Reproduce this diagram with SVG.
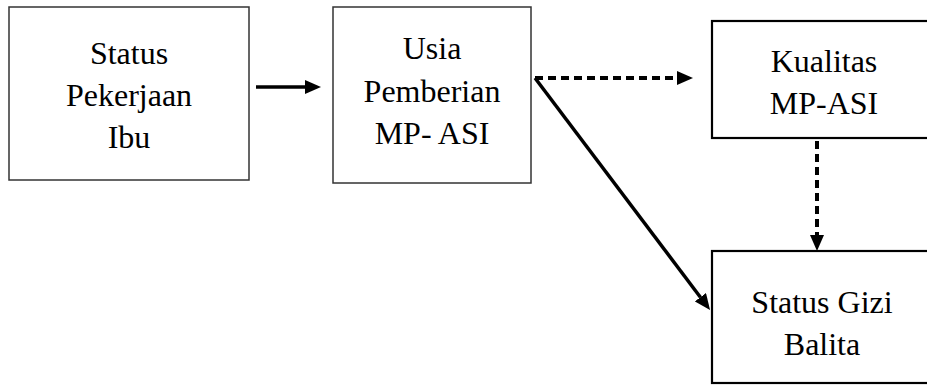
<svg xmlns="http://www.w3.org/2000/svg" width="927" height="385" viewBox="0 0 927 385">
<defs>
<style>
.box{fill:#fff;stroke:#333;stroke-width:1.5}
.box2{fill:#fff;stroke:#000;stroke-width:2.2}
.t{font-family:"Liberation Serif","Times New Roman",serif;font-size:32px;fill:#000;text-anchor:middle}
.ln{stroke:#000;stroke-width:3.5;fill:none}
.dash{stroke-width:4;stroke-dasharray:8 5}
</style>
<marker id="ah" viewBox="0 0 16 14" refX="0" refY="7" markerWidth="16" markerHeight="14" markerUnits="userSpaceOnUse" orient="auto">
<path d="M0,0 L16,7 L0,14 Z" fill="#000"/>
</marker>
</defs>
<rect width="927" height="385" fill="#fff"/>
<g id="node-status-pekerjaan">
<rect class="box" x="9" y="7" width="240" height="173"/>
<text class="t" x="129" y="64">Status</text>
<text class="t" x="129" y="106">Pekerjaan</text>
<text class="t" x="129" y="148">Ibu</text>
</g>
<g id="node-usia">
<rect class="box" x="333" y="7" width="198" height="176"/>
<text class="t" x="432" y="59">Usia</text>
<text class="t" x="432" y="102">Pemberian</text>
<text class="t" x="432" y="144">MP- ASI</text>
</g>
<g id="node-kualitas">
<rect class="box2" x="712" y="21" width="230" height="117"/>
<text class="t" x="824" y="72">Kualitas</text>
<text class="t" x="824" y="114">MP-ASI</text>
</g>
<g id="node-gizi">
<rect class="box2" x="712" y="251" width="230" height="132"/>
<text class="t" x="822" y="313">Status Gizi</text>
<text class="t" x="822" y="355">Balita</text>
</g>
<g id="connectors">
<line class="ln" x1="256" y1="87" x2="305" y2="87" marker-end="url(#ah)"/>
<line class="ln dash" x1="535" y1="78" x2="677" y2="78" marker-end="url(#ah)"/>
<line class="ln" x1="535" y1="78" x2="700.4" y2="297.2" marker-end="url(#ah)"/>
<line class="ln dash" x1="817" y1="141" x2="817" y2="235" marker-end="url(#ah)"/>
</g>
</svg>
